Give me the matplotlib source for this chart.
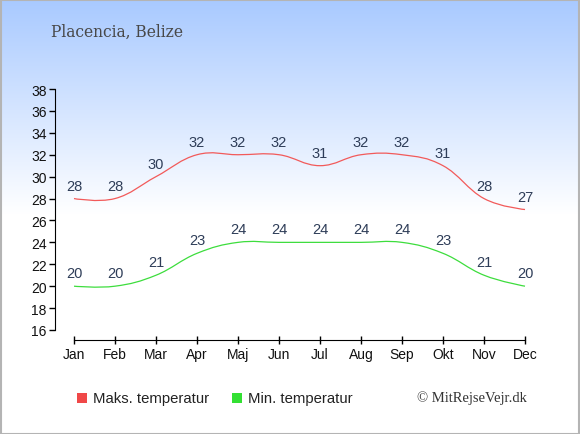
"""Monthly max/min temperatures for Placencia, Belize."""

import numpy as np
import matplotlib
matplotlib.use("Agg")
import matplotlib.pyplot as plt
from matplotlib.path import Path
from matplotlib.patches import PathPatch, Rectangle

months = ["Jan", "Feb", "Mar", "Apr", "Maj", "Jun",
          "Jul", "Aug", "Sep", "Okt", "Nov", "Dec"]
max_temp = [28, 28, 30, 32, 32, 32, 31, 32, 32, 31, 28, 27]
min_temp = [20, 20, 21, 23, 24, 24, 24, 24, 24, 23, 21, 20]
y_ticks = list(range(16, 39, 2))

W, H = 580, 435
LABEL_COLOR = "#2e3d58"


def spline_path(xs, ys, smoothing=1.5):
    # cubic bezier through the points, control points like a highcharts spline
    n = len(xs)
    left = [(xs[0], ys[0])] * n
    right = [(xs[-1], ys[-1])] * n
    right[0] = (xs[0], ys[0])
    denom = smoothing + 1
    for i in range(1, n - 1):
        lx = (smoothing * xs[i] + xs[i - 1]) / denom
        ly = (smoothing * ys[i] + ys[i - 1]) / denom
        rx = (smoothing * xs[i] + xs[i + 1]) / denom
        ry = (smoothing * ys[i] + ys[i + 1]) / denom
        corr = (ry - ly) * (rx - xs[i]) / (rx - lx) + ys[i] - ry
        left[i] = (lx, ly + corr)
        right[i] = (rx, ry + corr)
    left[-1] = (xs[-1], ys[-1])
    verts = [(xs[0], ys[0])]
    codes = [Path.MOVETO]
    for i in range(1, n):
        verts += [right[i - 1], left[i], (xs[i], ys[i])]
        codes += [Path.CURVE4] * 3
    return Path(verts, codes)


fig = plt.figure(figsize=(W / 100, H / 100), dpi=100)

# background gradient + border
bg = fig.add_axes([0, 0, 1, 1], zorder=-10)
grad = np.ones((H, 1, 3))
top = np.array([0.66, 0.79, 1.0])
for r in range(H):
    t = min(r / 215.0, 1.0)
    grad[r, 0] = top * (1 - t) + np.array([1.0, 1.0, 1.0]) * t
bg.imshow(grad, aspect="auto", extent=[0, 1, 0, 1])
bg.add_patch(Rectangle((0.001, 0.001), 0.997, 0.997, fill=False,
                       edgecolor="#b4b4b4", linewidth=1.5,
                       transform=bg.transAxes))
bg.set_axis_off()

x_left, x_right = 55, 545
y_top, y_bot = 90, 331
ax = fig.add_axes([x_left / W, 1 - y_bot / H,
                   (x_right - x_left) / W, (y_bot - y_top) / H])
ax.patch.set_alpha(0)

x = np.arange(len(months))
step = (525 - 74) / 11
ax.set_xlim(-(74 - x_left) / step, 11 + (x_right - 525) / step)
ax.set_ylim(16, 38)

ax.add_patch(PathPatch(spline_path(x, max_temp), fill=False,
                       edgecolor="#f25a5a", linewidth=0.9))
ax.add_patch(PathPatch(spline_path(x, min_temp), fill=False,
                       edgecolor="#3ddd3d", linewidth=0.9))

for xi, v in zip(x, max_temp):
    ax.annotate(str(v), (xi, v), xytext=(0, 9), textcoords="offset pixels",
                ha="center", va="baseline", fontsize=10.5,
                color=LABEL_COLOR, family="Liberation Sans")
for xi, v in zip(x, min_temp):
    ax.annotate(str(v), (xi, v), xytext=(0, 9), textcoords="offset pixels",
                ha="center", va="baseline", fontsize=10.5,
                color=LABEL_COLOR, family="Liberation Sans")

for side in ["top", "right"]:
    ax.spines[side].set_visible(False)
ax.spines["left"].set_bounds(16, 38)
ax.spines["bottom"].set_position(("outward", 7.5))
ax.spines["bottom"].set_bounds(0, 11)
ax.set_xticks(x)
ax.set_xticklabels(months)
ax.set_yticks(y_ticks)
ax.tick_params(axis="y", direction="out", length=4, width=1,
               labelsize=10, pad=2)
ax.tick_params(axis="x", direction="inout", length=6, width=1,
               labelsize=10, pad=2)
for lab in ax.get_xticklabels() + ax.get_yticklabels():
    lab.set_family("Liberation Sans")
    lab.set_color("#111111")

fig.text(51 / W, 1 - 32 / H, "Placencia, Belize", family="DejaVu Serif",
         fontsize=11.2, color="#484848", va="center", ha="left")

# legend
fig.patches.append(Rectangle((77 / W, 1 - 404 / H), 10 / W, 10 / H,
                             facecolor="#f04848", edgecolor="none",
                             transform=fig.transFigure, figure=fig))
fig.text(93 / W, 1 - 399 / H, "Maks. temperatur", family="Liberation Sans",
         fontsize=10.7, color="#222222", va="center")
fig.patches.append(Rectangle((232 / W, 1 - 404 / H), 10 / W, 10 / H,
                             facecolor="#33e033", edgecolor="none",
                             transform=fig.transFigure, figure=fig))
fig.text(248 / W, 1 - 399 / H, "Min. temperatur", family="Liberation Sans",
         fontsize=10.7, color="#222222", va="center")
fig.text(527 / W, 1 - 398 / H, "© MitRejseVejr.dk", family="Liberation Serif",
         fontsize=10.5, color="#333333", va="center", ha="right")

fig.savefig("out.png", dpi=100)
